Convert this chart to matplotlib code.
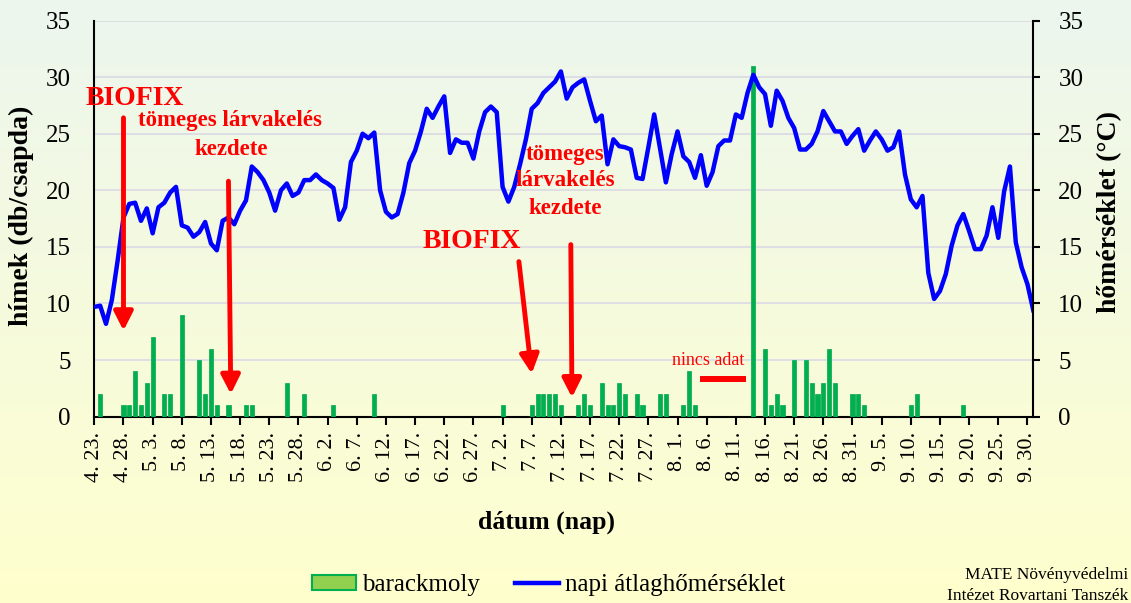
import numpy as np
import matplotlib.pyplot as plt
from matplotlib.patches import Patch
from matplotlib.lines import Line2D

plt.rcParams['font.family'] = ['Liberation Serif', 'DejaVu Serif']

# napi átlaghőmérséklet (°C), 4.23. -tól naponta
temp = [
    9.7, 9.8, 8.2, 10.3, 13.8, 17.6, 18.8, 18.9, 17.3, 18.4,
    16.2, 18.5, 18.9, 19.8, 20.3, 16.9, 16.7, 15.9, 16.3, 17.2,
    15.3, 14.7, 17.3, 17.6, 17.0, 18.2, 19.1, 22.1, 21.6, 20.9,
    19.8, 18.2, 20.0, 20.6, 19.5, 19.8, 20.9, 20.9, 21.4, 20.9,
    20.6, 20.2, 17.4, 18.5, 22.5, 23.5, 25.0, 24.6, 25.1, 20.0,
    18.1, 17.6, 17.9, 19.8, 22.4, 23.5, 25.2, 27.2, 26.4, 27.4,
    28.3, 23.3, 24.5, 24.2, 24.2, 22.8, 25.2, 26.9, 27.4, 26.9,
    20.3, 19.0, 20.3, 22.3, 24.5, 27.2, 27.7, 28.6, 29.1, 29.6,
    30.5, 28.1, 29.1, 29.5, 29.8, 27.9, 26.1, 26.6, 22.3, 24.5,
    23.9, 23.8, 23.6, 21.1, 21.0, 23.8, 26.7, 23.7, 20.7, 23.2,
    25.2, 23.0, 22.5, 21.1, 23.1, 20.4, 21.6, 23.9, 24.4, 24.4,
    26.7, 26.4, 28.6, 30.2, 29.1, 28.5, 25.7, 28.8, 27.9, 26.4,
    25.5, 23.6, 23.6, 24.1, 25.2, 27.0, 26.1, 25.2, 25.2, 24.1,
    24.8, 25.4, 23.5, 24.4, 25.2, 24.5, 23.5, 23.8, 25.2, 21.4,
    19.2, 18.5, 19.5, 12.7, 10.4, 11.1, 12.6, 15.1, 16.9, 17.9,
    16.4, 14.8, 14.8, 16.0, 18.5, 15.8, 19.9, 22.1, 15.4, 13.2,
    11.7, 9.4,
]

# barackmoly fogás (db/csapda): nap sorszáma 4.23. = 0
moth_days = [1, 5, 6, 7, 8, 9, 10, 12, 13, 15, 18, 19, 20, 21, 23, 26, 27,
             33, 36, 41, 48, 70, 75, 76, 77, 78, 79, 80, 83, 84, 85, 87, 88,
             89, 90, 91, 93, 94, 97, 98, 101, 102, 103, 113, 115, 116, 117,
             118, 120, 122, 123, 124, 125, 126, 127, 130, 131, 132, 140, 141,
             149]
moth_counts = [2, 1, 1, 4, 1, 3, 7, 2, 2, 9, 5, 2, 6, 1, 1, 1, 1,
               3, 2, 1, 2, 1, 1, 2, 2, 2, 2, 1, 1, 2, 1, 3, 1,
               1, 3, 2, 2, 1, 2, 2, 1, 4, 1, 31, 6, 1, 2,
               1, 5, 5, 3, 2, 3, 6, 3, 2, 2, 1, 1, 2,
               1]

tick_labels = ['4. 23.', '4. 28.', '5. 3.', '5. 8.', '5. 13.', '5. 18.',
               '5. 23.', '5. 28.', '6. 2.', '6. 7.', '6. 12.', '6. 17.',
               '6. 22.', '6. 27.', '7. 2.', '7. 7.', '7. 12.', '7. 17.',
               '7. 22.', '7. 27.', '8. 1.', '8. 6.', '8. 11.', '8. 16.',
               '8. 21.', '8. 26.', '8. 31.', '9. 5.', '9. 10.', '9. 15.',
               '9. 20.', '9. 25.', '9. 30.']

fig = plt.figure(figsize=(11.31, 6.03), dpi=100)

# háttér színátmenet
bg = fig.add_axes([0, 0, 1, 1], zorder=-10)
top_c = np.array([236, 246, 238]) / 255
bot_c = np.array([255, 255, 205]) / 255
t = np.linspace(0, 1, 256)[:, None]
img = top_c[None, :] * (1 - t) + bot_c[None, :] * t
bg.imshow(img[:, None, :], aspect='auto', extent=[0, 1, 0, 1])
bg.axis('off')

ax = fig.add_axes([0.0834, 0.3090, 0.8302, 0.6570])
ax.patch.set_visible(False)
ax.set_xlim(0, 161)
ax.set_ylim(0, 35)

ax.bar(moth_days, moth_counts, width=0.7, color='#00B050',
       edgecolor='#00A84A', lw=0.5, zorder=3)
ax.plot(np.arange(len(temp)), temp, color='#0000FF', lw=3.2,
        solid_joinstyle='round', zorder=4)

ax.set_yticks(range(0, 36, 5))
ax.yaxis.grid(True, color='#dcdce4', lw=1.3)
ax.set_axisbelow(True)
ax.set_xticks(range(0, 161, 5))
ax.set_xticklabels(tick_labels, rotation=90, fontsize=16, va='top', ha='center')
ax.tick_params(axis='x', length=6, width=1.5, direction='out', pad=5)
ax.tick_params(axis='y', length=0, pad=17, labelsize=18)
for s in ['top', 'right']:
    ax.spines[s].set_visible(False)
for s in ['left', 'bottom']:
    ax.spines[s].set_linewidth(1.5)

ax2 = ax.twinx()
ax2.set_ylim(0, 35)
ax2.set_yticks(range(0, 36, 5))
ax2.tick_params(axis='y', length=5, width=1.5, direction='out', pad=13, labelsize=18)
for s in ['top', 'left', 'bottom']:
    ax2.spines[s].set_visible(False)
ax2.spines['right'].set_linewidth(1.5)

red = '#FF0000'


def arrow(x0, y0, x1, y1):
    ax.annotate('', xy=(x1, y1), xytext=(x0, y0),
                arrowprops=dict(arrowstyle='-|>,head_width=0.38,head_length=0.75',
                                mutation_scale=15, lw=3.5, color=red,
                                shrinkA=0, shrinkB=0),
                zorder=6, annotation_clip=False)


arrow(5.0, 26.4, 5.0, 7.6)
arrow(23.0, 20.8, 23.4, 2.0)
arrow(72.8, 13.7, 75.0, 3.8)
arrow(81.7, 15.2, 81.9, 1.7)

bold = dict(color=red, fontweight='bold', ha='center', va='baseline', zorder=7)
ax.text(6.9, 27.5, 'BIOFIX', fontsize=20, clip_on=False, **bold)
ax.text(23.3, 25.7, 'tömeges lárvakelés', fontsize=16.5, **bold)
ax.text(23.4, 23.1, 'kezdete', fontsize=16.5, **bold)
ax.text(64.8, 14.9, 'BIOFIX', fontsize=20, **bold)
ax.text(80.7, 22.7, 'tömeges', fontsize=16.5, **bold)
ax.text(80.7, 20.35, 'lárvakelés', fontsize=16.5, **bold)
ax.text(80.7, 17.9, 'kezdete', fontsize=16.5, **bold)

ax.text(105.3, 4.57, 'nincs adat', color=red, fontsize=13, ha='center',
        va='baseline', zorder=7)
ax.plot([103.8, 111.7], [3.34, 3.34], color=red, lw=4.3, solid_capstyle='butt',
        zorder=7)

fig.text(21 / 1131, 1 - 216 / 603, 'hímek (db/csapda)', rotation=90,
         fontsize=20, fontweight='bold', ha='center', va='center')
fig.text(1110 / 1131, 1 - 212 / 603, 'hőmérséklet (°C)', rotation=90,
         fontsize=20, fontweight='bold', ha='center', va='center')
fig.text(547 / 1131, 1 - 522 / 603, 'dátum (nap)', fontsize=18.5,
         fontweight='bold', ha='center', va='center')

handles = [Patch(facecolor='#92D050', edgecolor='#00B050', lw=1.5),
           Line2D([], [], color='#0000FF', lw=3.2)]
fig.legend(handles, ['barackmoly', 'napi átlaghőmérséklet'], loc='center',
           bbox_to_anchor=(0.485, 0.030), ncol=2, frameon=False, fontsize=18,
           handlelength=1.75, handleheight=0.55, handletextpad=0.25,
           columnspacing=1.4)

# forrás, jobb alsó sarok
fig.text(1128 / 1131, 1 - 579 / 603, 'MATE Növényvédelmi', fontsize=12.5,
         ha='right', va='baseline')
fig.text(1128 / 1131, 1 - 600 / 603, 'Intézet Rovartani Tanszék', fontsize=12.5,
         ha='right', va='baseline')

fig.savefig('out.png', dpi=100)
